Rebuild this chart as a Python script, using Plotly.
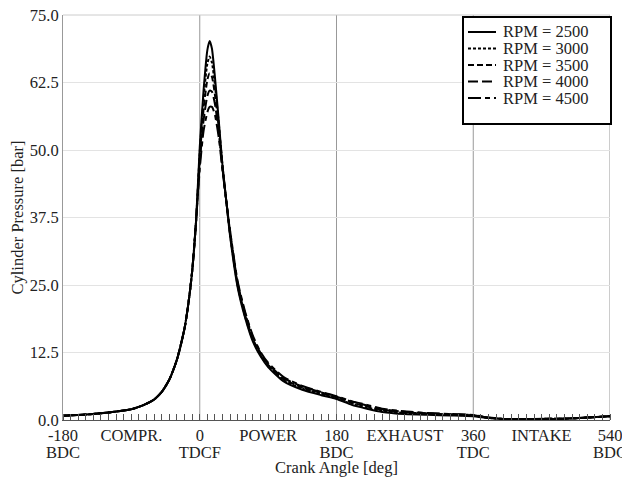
import plotly.graph_objects as go

# crank angle [deg] and cylinder pressure [bar]
crank_angle = [-180, -150, -120, -90, -75, -60, -50, -40, -30, -20, -15, -10, -5, 0, 5, 10, 13, 16,
               20, 25, 30, 35, 40, 50, 60, 70, 80, 90, 110, 135, 160, 180, 200, 220,
               240, 270, 300, 330, 360, 380, 400, 440, 480, 510, 540]

p_2500 = [0.8, 1.0, 1.4, 2.0, 2.7, 3.8, 5.2, 7.5, 11.2, 17.0, 21.5, 27.5, 36.5, 50.5, 61.0, 68.5, 70.2, 68.8,
          63.5, 55.5, 47.0, 40.5, 34.0, 24.5, 18.8, 14.5, 11.8, 9.8, 7.2, 5.6, 4.6, 3.9, 2.8, 2.1,
          1.5, 1.1, 0.95, 0.85, 0.7, 0.35, 0.2, 0.2, 0.25, 0.45, 0.7]
p_3000 = [0.8, 1.0, 1.4, 2.0, 2.7, 3.8, 5.2, 7.5, 11.2, 17.0, 21.5, 27.5, 36.5, 49.5, 59.5, 66.0, 67.3, 66.2,
          62.0, 55.0, 47.0, 40.5, 34.2, 24.8, 19.0, 14.8, 12.0, 10.0, 7.4, 5.8, 4.8, 4.0, 3.0, 2.3,
          1.7, 1.3, 1.1, 0.95, 0.8, 0.4, 0.2, 0.2, 0.25, 0.45, 0.7]
p_3500 = [0.8, 1.0, 1.4, 2.0, 2.7, 3.8, 5.2, 7.5, 11.2, 17.0, 21.5, 27.5, 36.5, 48.5, 57.5, 63.0, 64.2, 63.6,
          60.2, 54.2, 46.8, 40.5, 34.5, 25.0, 19.3, 15.0, 12.2, 10.2, 7.6, 6.0, 5.0, 4.2, 3.2, 2.5,
          1.9, 1.4, 1.2, 1.0, 0.85, 0.4, 0.2, 0.2, 0.25, 0.45, 0.7]
p_4000 = [0.8, 1.0, 1.4, 2.0, 2.7, 3.8, 5.2, 7.5, 11.2, 17.0, 21.5, 27.5, 36.5, 47.5, 55.5, 60.0, 61.0, 60.8,
          58.5, 53.3, 46.5, 40.5, 34.8, 25.3, 19.6, 15.3, 12.4, 10.4, 7.8, 6.2, 5.1, 4.3, 3.4, 2.7,
          2.0, 1.5, 1.25, 1.05, 0.9, 0.45, 0.2, 0.2, 0.25, 0.45, 0.7]
p_4500 = [0.8, 1.0, 1.4, 2.0, 2.7, 3.8, 5.2, 7.5, 11.2, 17.0, 21.5, 27.5, 36.5, 46.5, 53.5, 57.0, 58.0, 58.0,
          56.5, 52.3, 46.2, 40.5, 35.0, 25.6, 19.9, 15.6, 12.6, 10.6, 8.0, 6.3, 5.2, 4.4, 3.5, 2.8,
          2.1, 1.6, 1.3, 1.1, 0.95, 0.45, 0.2, 0.2, 0.25, 0.45, 0.7]

rpm_names = ["RPM = 2500", "RPM = 3000", "RPM = 3500", "RPM = 4000", "RPM = 4500"]
pressures = [p_2500, p_3000, p_3500, p_4000, p_4500]
dashes = ["solid", "3px,2px", "6px,3px", "10px,4px", "13px,4px,5px,4px"]

# two rows of x labels: angle / stroke name, then dead-centre name
stroke_ticks = [-180, -90, 0, 90, 180, 270, 360, 450, 540]
stroke_labels = ["-180", "COMPR.", "0", "POWER", "180", "EXHAUST", "360", "INTAKE", "540"]
centre_ticks = [-180, 0, 180, 360, 540]
centre_labels = ["BDC", "TDCF", "BDC", "TDC", "BDC"]
grid_angles = [0, 180, 360, 540]
pressure_ticks = [0, 12.5, 25, 37.5, 50, 62.5, 75]

font = "Liberation Serif, Times New Roman, serif"
fsize = 16.5
OFF = 8  # the page body adds an 8px margin round the figure
W, H = 630 - OFF, 477 - OFF
L, R, T, B = 63 - OFF, 20, 15 - OFF, 57


def px_x(px):
    return (px - OFF - L) / (W - L - R)


def px_y(py):
    return (H - B - (py - OFF)) / (H - T - B)


fig = go.Figure()
for name, p, d in zip(rpm_names, pressures, dashes):
    fig.add_trace(go.Scatter(x=crank_angle, y=p, mode="lines", name=name,
                             line=dict(color="black", width=2, dash=d, shape="spline",
                                       smoothing=0.6)))
# holds the second row of tick labels
fig.add_trace(go.Scatter(x=[None], y=[None], xaxis="x2", showlegend=False, hoverinfo="skip"))

# vertical grid lines at the TDC/BDC positions
for a in grid_angles:
    fig.add_shape(type="line", xref="x", yref="paper", x0=a, x1=a, y0=0, y1=1,
                  line=dict(color="#999999", width=1), layer="below")
fig.add_shape(type="line", xref="paper", yref="paper", x0=0, x1=1, y0=1, y1=1,
              line=dict(color="#cccccc", width=1), layer="below")

# legend box drawn by hand (tight line spacing like the original)
fig.add_shape(type="rect", xref="paper", yref="paper",
              x0=px_x(463), x1=px_x(611), y0=px_y(124), y1=px_y(17),
              line=dict(color="black", width=2), fillcolor="white", layer="above")
for i, (name, d) in enumerate(zip(rpm_names, dashes)):
    yc = 32 + 16.5 * i
    fig.add_shape(type="line", xref="paper", yref="paper",
                  x0=px_x(468), x1=px_x(496), y0=px_y(yc), y1=px_y(yc),
                  line=dict(color="black", width=2, dash=d), layer="above")
    fig.add_annotation(xref="paper", yref="paper", x=px_x(501), y=px_y(yc),
                       xanchor="left", yanchor="middle", text=name, showarrow=False,
                       font=dict(family=font, size=fsize, color="#222222"))

fig.update_layout(
    width=W, height=H,
    margin=dict(l=L, r=R, t=T, b=B),
    paper_bgcolor="white", plot_bgcolor="white",
    font=dict(family=font, size=fsize, color="#222222"),
    showlegend=False,
)
fig.update_xaxes(
    range=[-180, 540], tickmode="array", tickvals=stroke_ticks, ticktext=stroke_labels,
    showgrid=False, zeroline=False, showline=True, linecolor="#555555", linewidth=1,
    ticks="", tickfont=dict(family=font, size=fsize, color="#222222"), automargin=False,
    minor=dict(dtick=10, tick0=-180, ticks="inside", ticklen=6, tickcolor="#555555",
               showgrid=False),
    title=dict(text="Crank Angle [deg]", standoff=20, font=dict(family=font, size=fsize)),
)
fig.update_layout(xaxis2=dict(
    overlaying="x", anchor="y", side="bottom", range=[-180, 540],
    tickmode="array", tickvals=centre_ticks, ticktext=centre_labels,
    showgrid=False, zeroline=False, showline=False, ticks="", automargin=False,
    ticklabelstandoff=20, tickfont=dict(family=font, size=fsize, color="#222222"),
))
fig.update_yaxes(
    range=[0, 75], tickmode="array", tickvals=pressure_ticks, tickformat=".1f",
    automargin=False, ticklabeloverflow="allow",
    showgrid=True, gridcolor="#e3e3e3", gridwidth=1, zeroline=False,
    showline=True, linecolor="#999999", linewidth=1, ticks="",
    tickfont=dict(family=font, size=fsize, color="#222222"),
    title=dict(text="Cylinder Pressure [bar]", standoff=4, font=dict(family=font, size=fsize)),
)

fig.write_html("out.html")
